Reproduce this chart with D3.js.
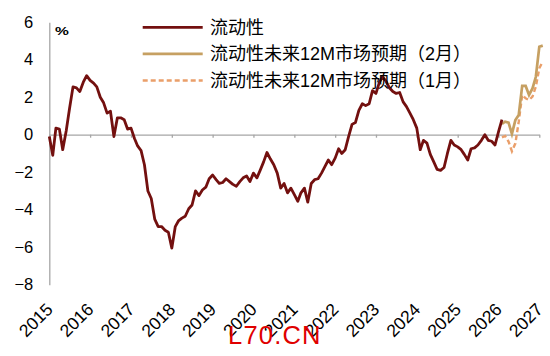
<!DOCTYPE html>
<html><head><meta charset="utf-8">
<script src="https://cdn.jsdelivr.net/npm/d3@7"></script>
<style>
body{margin:0;background:#fff;}
svg{display:block;}
</style></head>
<body>
<svg id="c" width="550" height="356"></svg>
<script>
// ---- data ----
const startMonth = "2015-01";
const liquidity = [
 -0.1,-1.1,0.35,0.3,-0.8,0.2,1.4,2.55,2.5,2.3,2.8,3.15,
 2.9,2.75,2.55,2.0,1.7,1.15,1.25,-0.1,0.9,0.9,0.8,0.3,
 0.35,-0.2,-0.6,-0.85,-1.6,-3.0,-3.4,-4.5,-4.9,-4.9,-5.1,-5.2,
 -6.05,-4.9,-4.6,-4.45,-4.35,-3.95,-3.75,-3.0,-3.25,-2.95,-2.8,-2.35,
 -2.15,-2.4,-2.6,-2.55,-2.35,-2.5,-2.65,-2.75,-2.5,-2.3,-2.2,-2.5,
 -2.05,-2.3,-1.9,-1.45,-0.95,-1.3,-1.6,-2.05,-2.85,-2.6,-3.1,-2.85,
 -3.2,-3.55,-3.1,-2.85,-3.6,-2.6,-2.4,-2.35,-2.05,-1.7,-1.35,-1.6,
 -1.25,-0.75,-1.0,-0.8,-0.1,0.55,0.65,1.3,1.65,1.55,1.65,2.35,
 2.2,2.8,3.1,2.85,2.5,2.3,2.2,2.25,1.75,1.5,1.15,0.8,
 0.35,-0.8,-0.3,-0.45,-1.05,-1.45,-1.85,-1.9,-1.75,-1.0,-0.3,-0.55,
 -0.65,-0.8,-1.05,-1.35,-0.75,-0.7,-0.55,-0.3,0.0,-0.3,-0.35,-0.55,
 0.15,0.8
];
const forecastFebStart = "2026-02";
const forecastFeb = [0.57,0.69,0.64,0.04,0.78,1.05,2.6,2.6,2.12,2.47,3.09,4.69,4.75];
const forecastJanStart = "2026-02";
const forecastJan = [-0.14,-0.07,-0.37,-0.88,-0.46,0.69,2.12,1.94,1.85,2.03,2.56,3.54,3.9];
const yearLabels = ["2015","2016","2017","2018","2019","2020","2021","2022","2023","2024","2025","2026","2027"];
const yTicks = [6,4,2,0,-2,-4,-6,-8];
const seriesNames = ["流动性","流动性未来12M市场预期（2月）","流动性未来12M市场预期（1月）"];
const colors = ["#73100f","#c6a062","#ea9f6a"];

// ---- chart ----
const svg = d3.select("#c");
const parse = d3.timeParse("%Y-%m");
const x = d3.scaleTime().domain([new Date(2015,0,1), new Date(2027,0,1)]).range([49.3, 539.3]);
const y = d3.scaleLinear().domain([-8,6]).range([284.7, 22.2]);

function toPoints(start, vals){
  const s = parse(start);
  return vals.map((v,i)=>({d:d3.timeMonth.offset(s,i), v}));
}
const font = "'Liberation Sans', Arial, 'Noto Sans CJK SC', sans-serif";

// y axis
const yAxis = d3.axisLeft(y).tickValues(yTicks).tickSize(0).tickPadding(16).tickFormat(d3.format("d"));
const gy = svg.append("g").attr("transform","translate(49.3,0)").call(yAxis);
gy.select(".domain").attr("stroke","#a6a6a6").attr("stroke-width",1.3);
gy.selectAll("text").attr("font-family",font).attr("font-size",16.5).attr("fill","#000");

// x axis at y=0
const xAxis = d3.axisBottom(x).tickValues(yearLabels.map(t=>new Date(+t,0,1))).tickSize(3).tickSizeOuter(0).tickFormat("");
const gx = svg.append("g").attr("transform",`translate(0,${y(0)})`).call(xAxis);
gx.select(".domain").attr("stroke","#a6a6a6").attr("stroke-width",1.3);
gx.selectAll(".tick line").attr("stroke","#a6a6a6").attr("stroke-width",1.3);

// year labels at bottom
svg.append("g").selectAll("text").data(yearLabels).join("text")
  .attr("transform",d=>`translate(${x(new Date(+d,0,1))+4.5},310.5) rotate(-45)`)
  .attr("text-anchor","end")
  .attr("font-family",font).attr("font-size",17.5).attr("fill","#000")
  .text(d=>d);

// unit
svg.append("text").attr("transform","translate(55,35) scale(1.3,0.85)")
  .attr("font-family",font).attr("font-size",12).attr("font-weight","bold").text("%");

const line = d3.line().x(p=>x(p.d)).y(p=>y(p.v));
svg.append("path").datum(toPoints(forecastJanStart, forecastJan)).attr("d",line)
  .attr("fill","none").attr("stroke",colors[2]).attr("stroke-width",2.4).attr("stroke-dasharray","5,3");
svg.append("path").datum(toPoints(forecastFebStart, forecastFeb)).attr("d",line)
  .attr("fill","none").attr("stroke",colors[1]).attr("stroke-width",2.7);
svg.append("path").datum(toPoints(startMonth, liquidity)).attr("d",line)
  .attr("fill","none").attr("stroke",colors[0]).attr("stroke-width",2.8).attr("stroke-linejoin","round");

// legend
const lg = svg.append("g");
seriesNames.forEach((n,i)=>{
  const yy = 27.3 + i*26.6;
  lg.append("line").attr("x1",142.7).attr("x2",202.7).attr("y1",yy).attr("y2",yy)
    .attr("stroke",colors[i]).attr("stroke-width",i==2?2.4:2.8).attr("stroke-dasharray",i==2?"5,3":null);
  lg.append("text").attr("x",210).attr("y",yy).attr("dy","0.36em")
    .attr("font-family",font).attr("font-size",18).attr("fill","#000").text(n);
});

// watermark
svg.append("text").attr("x",228).attr("y",344).attr("font-family","'Liberation Sans', Arial, sans-serif")
  .attr("font-size",25.5).attr("letter-spacing",1.2).attr("fill","#e00000").text("L70.CN");
</script>
</body></html>
